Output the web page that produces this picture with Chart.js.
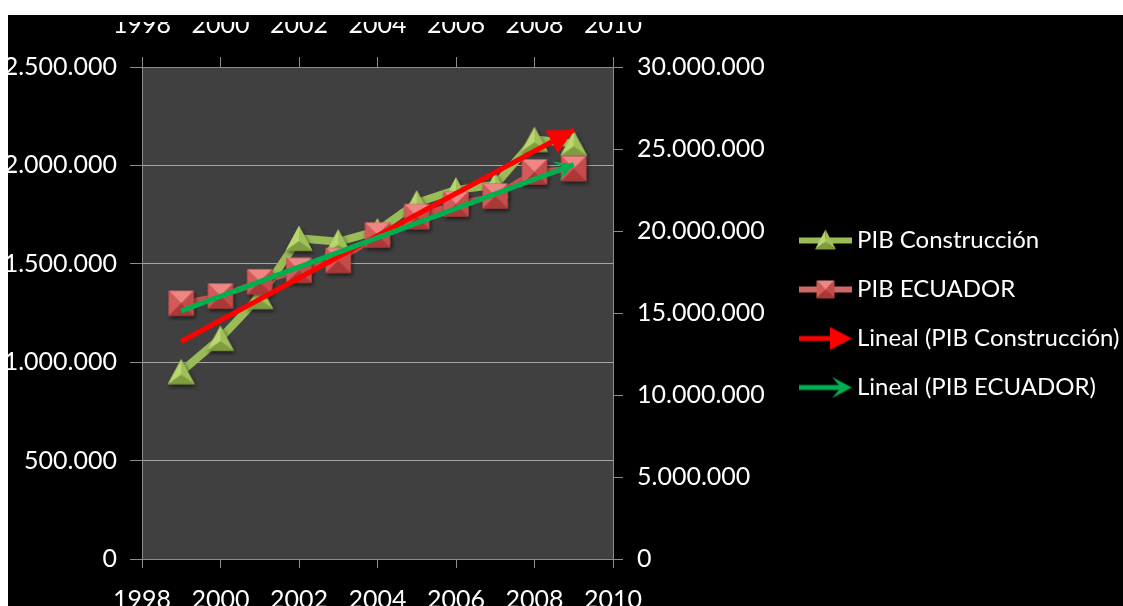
<!DOCTYPE html>
<html>
<head>
<meta charset="utf-8">
<title>PIB Construcción vs PIB Ecuador</title>
<script src="https://cdn.jsdelivr.net/npm/chart.js@4.4.1/dist/chart.umd.min.js"></script>
<style>
  html, body { margin: 0; padding: 0; background: #ffffff; width: 1123px; height: 606px; overflow: hidden; }
  #wrap { position: absolute; left: 8px; top: 15px; width: 1115px; height: 591px; background: #000000; }
  canvas { display: block; }
</style>
</head>
<body>
<div id="wrap"><canvas id="chart" width="1115" height="591"></canvas></div>
<script>
// ---- data -------------------------------------------------------------
const years = [1999, 2000, 2001, 2002, 2003, 2004, 2005, 2006, 2007, 2008, 2009];
const pibConstruccion = [952000, 1122000, 1334000, 1630000, 1612000, 1668000, 1810000, 1876000, 1900000, 2132000, 2112000];
const pibEcuador = [15590000, 16030000, 16900000, 17600000, 18200000, 19750000, 20870000, 21640000, 22130000, 23600000, 23800000];

// linear trend lines (start and end of each fitted line)
const trendYears = [1999, 2009];
const trendConstruccion = [1105000, 2180000];
const trendEcuador = [15130000, 24050000];

// tick labels
const yearTicks = [1998, 2000, 2002, 2004, 2006, 2008, 2010];
const leftTicks = [0, 500000, 1000000, 1500000, 2000000, 2500000];
const rightTicks = [0, 5000000, 10000000, 15000000, 20000000, 25000000, 30000000];

// ---- helpers ----------------------------------------------------------
const fmtMiles = v => String(Math.round(v)).replace(/\B(?=(\d{3})+(?!\d))/g, '.');
const pairs = (xs, ys) => xs.map((x, i) => ({ x: x, y: ys[i] }));

function drawPyramidTriangle(g, cx, cy, w, h, shadow) {
  const ax = cx, ay = cy - h / 2;
  const lx = cx - w / 2, ly = cy + h / 2;
  const rx = cx + w / 2, ry = cy + h / 2;
  const mx = cx, my = cy + h * 0.12;
  if (shadow) {
    g.save();
    g.shadowColor = 'rgba(0,0,0,0.6)';
    g.shadowBlur = 4; g.shadowOffsetX = 1.5; g.shadowOffsetY = 2.5;
    g.beginPath(); g.moveTo(ax, ay); g.lineTo(rx, ry); g.lineTo(lx, ly); g.closePath();
    g.fillStyle = '#8cab48'; g.fill();
    g.restore();
  }
  const face = (pts, col) => {
    g.beginPath(); g.moveTo(pts[0], pts[1]); g.lineTo(pts[2], pts[3]); g.lineTo(pts[4], pts[5]); g.closePath();
    g.fillStyle = col; g.fill();
  };
  face([ax, ay, lx, ly, mx, my], '#b9d66f');
  face([ax, ay, rx, ry, mx, my], '#a2c05a');
  face([lx, ly, rx, ry, mx, my], '#7f9d3f');
}

function drawPyramidSquare(g, cx, cy, s, shadow) {
  const l = cx - s / 2, t = cy - s / 2, r = cx + s / 2, b = cy + s / 2;
  if (shadow) {
    g.save();
    g.shadowColor = 'rgba(0,0,0,0.6)';
    g.shadowBlur = 4; g.shadowOffsetX = 1.5; g.shadowOffsetY = 2.5;
    g.fillStyle = '#b84442'; g.fillRect(l, t, s, s);
    g.restore();
  }
  const face = (pts, col) => {
    g.beginPath(); g.moveTo(pts[0], pts[1]); g.lineTo(pts[2], pts[3]); g.lineTo(pts[4], pts[5]); g.closePath();
    g.fillStyle = col; g.fill();
  };
  face([l, t, r, t, cx, cy], '#ee8683');
  face([l, t, l, b, cx, cy], '#d35a58');
  face([r, t, r, b, cx, cy], '#c44c4a');
  face([l, b, r, b, cx, cy], '#a93836');
}

function makeCanvas(w, h) {
  const c = document.createElement('canvas');
  c.width = w; c.height = h;
  return c;
}

// point markers
const triMarker = (() => {
  const c = makeCanvas(38, 36);
  drawPyramidTriangle(c.getContext('2d'), 19, 18, 27, 25, true);
  return c;
})();
const sqMarker = (() => {
  const c = makeCanvas(36, 36);
  drawPyramidSquare(c.getContext('2d'), 18, 18, 25, true);
  return c;
})();

// legend symbols (line sample + marker / arrow), visible part from x=13 to x=66
function legendIcon(kind) {
  const c = makeCanvas(66, 30);
  const g = c.getContext('2d');
  const y = 15;
  if (kind === 'tri') {
    g.strokeStyle = '#9bbb59'; g.lineWidth = 6;
    g.beginPath(); g.moveTo(13, y); g.lineTo(66, y); g.stroke();
    drawPyramidTriangle(g, 39.5, y - 1, 21, 20, false);
  } else if (kind === 'sq') {
    g.strokeStyle = '#d06866'; g.lineWidth = 6;
    g.beginPath(); g.moveTo(13, y); g.lineTo(66, y); g.stroke();
    drawPyramidSquare(g, 39.5, y, 18, false);
  } else if (kind === 'redArrow') {
    g.strokeStyle = '#ff0000'; g.fillStyle = '#ff0000'; g.lineWidth = 5;
    g.beginPath(); g.moveTo(13, y); g.lineTo(48, y); g.stroke();
    g.beginPath(); g.moveTo(66, y); g.lineTo(44, y - 11.5); g.lineTo(44, y + 11.5); g.closePath(); g.fill();
  } else {
    g.strokeStyle = '#00b050'; g.fillStyle = '#00b050'; g.lineWidth = 5;
    g.beginPath(); g.moveTo(13, y); g.lineTo(58, y); g.stroke();
    g.beginPath(); g.moveTo(66, y); g.lineTo(46, y - 10.5); g.lineTo(55, y); g.lineTo(46, y + 10.5); g.closePath(); g.fill();
  }
  return c;
}
const legendIcons = [legendIcon('tri'), legendIcon('sq'), legendIcon('redArrow'), legendIcon('greenArrow')];

// ---- plugins ----------------------------------------------------------
const plotBackground = {
  id: 'plotBackground',
  beforeDraw(chart) {
    const a = chart.chartArea, g = chart.ctx;
    g.save();
    g.fillStyle = '#404040';
    g.fillRect(a.left, a.top, a.right - a.left, a.bottom - a.top);
    g.restore();
  }
};

// arrow heads at the end of the trend lines
const arrowHeads = {
  id: 'arrowHeads',
  afterDatasetDraw(chart, args) {
    const ds = chart.data.datasets[args.index];
    if (!ds.arrowHead) return;
    const pts = args.meta.data;
    const a = pts[pts.length - 2], b = pts[pts.length - 1];
    const ang = Math.atan2(b.y - a.y, b.x - a.x);
    const g = chart.ctx;
    g.save();
    g.translate(b.x, b.y);
    g.rotate(ang);
    g.fillStyle = ds.borderColor;
    g.beginPath();
    if (ds.arrowHead === 'triangle') {
      g.moveTo(0, 0); g.lineTo(-25, -13); g.lineTo(-25, 13);
    } else {
      g.moveTo(0, 0); g.lineTo(-19, -10.5); g.lineTo(-10, 0); g.lineTo(-19, 10.5);
    }
    g.closePath();
    g.fill();
    g.restore();
  }
};

// ---- chart ------------------------------------------------------------
Chart.defaults.font.family = "Lato, 'Open Sans', sans-serif";
Chart.defaults.color = '#ffffff';

const axisGray = '#8c8c8c';
const tickFont = { size: 25 };
const setTicks = list => scale => { scale.ticks = list.map(v => ({ value: v })); };

new Chart(document.getElementById('chart'), {
  type: 'line',
  data: {
    datasets: [
      {
        label: 'PIB Construcción',
        data: pairs(years, pibConstruccion),
        xAxisID: 'x', yAxisID: 'y',
        borderColor: '#9bbb59', backgroundColor: '#9bbb59',
        borderWidth: 8, tension: 0, fill: false,
        pointStyle: triMarker, pointRadius: 13,
        order: 3
      },
      {
        label: 'PIB ECUADOR',
        data: pairs(years, pibEcuador),
        xAxisID: 'x', yAxisID: 'y1',
        borderColor: '#c8504e', backgroundColor: '#c8504e',
        borderWidth: 6, tension: 0, fill: false,
        pointStyle: sqMarker, pointRadius: 12,
        order: 2
      },
      {
        label: 'Lineal (PIB Construcción)',
        data: pairs(trendYears, trendConstruccion),
        xAxisID: 'x', yAxisID: 'y',
        borderColor: '#ff0000', backgroundColor: '#ff0000',
        borderWidth: 5, tension: 0, fill: false, pointRadius: 0,
        arrowHead: 'triangle',
        order: 1
      },
      {
        label: 'Lineal (PIB ECUADOR)',
        data: pairs(trendYears, trendEcuador),
        xAxisID: 'x', yAxisID: 'y1',
        borderColor: '#00b050', backgroundColor: '#00b050',
        borderWidth: 5, tension: 0, fill: false, pointRadius: 0,
        arrowHead: 'stealth',
        order: 0
      }
    ]
  },
  options: {
    responsive: false,
    devicePixelRatio: 1,
    animation: false,
    events: [],
    layout: { padding: { top: 7 } },
    scales: {
      x: {
        type: 'linear', position: 'bottom', min: 1998, max: 2010,
        afterBuildTicks: setTicks(yearTicks),
        afterFit: s => { s.height = 47; },
        ticks: { color: '#ffffff', font: tickFont, padding: 17, maxRotation: 0, autoSkip: false, callback: v => String(v) },
        grid: { drawOnChartArea: false, color: axisGray, tickLength: 9 },
        border: { color: axisGray }
      },
      x2: {
        type: 'linear', position: 'top', min: 1998, max: 2010,
        afterBuildTicks: setTicks(yearTicks),
        afterFit: s => { s.height = 45; },
        ticks: { color: '#ffffff', font: tickFont, padding: 17, maxRotation: 0, autoSkip: false, callback: v => String(v) },
        grid: { drawOnChartArea: false, color: axisGray, tickLength: 10 },
        border: { color: axisGray }
      },
      y: {
        type: 'linear', position: 'left', min: 0, max: 2500000,
        afterBuildTicks: setTicks(leftTicks),
        afterFit: s => { s.width = 134; },
        ticks: { color: '#ffffff', font: tickFont, padding: 13, callback: v => fmtMiles(v) },
        grid: { color: '#a6a6a6', tickColor: axisGray, tickLength: 12 },
        border: { color: axisGray }
      },
      y1: {
        type: 'linear', position: 'right', min: 0, max: 30000000,
        afterBuildTicks: setTicks(rightTicks),
        afterFit: s => { s.width = s.chart.width - 605 - s.chart.legend.width; },
        ticks: { color: '#ffffff', font: tickFont, padding: 14, callback: v => fmtMiles(v) },
        grid: { drawOnChartArea: false, color: axisGray, tickLength: 10 },
        border: { color: axisGray }
      }
    },
    plugins: {
      tooltip: { enabled: false },
      legend: {
        position: 'right',
        maxWidth: 355,
        labels: {
          color: '#ffffff',
          font: { size: 24 },
          padding: 25,
          usePointStyle: true,
          pointStyleWidth: 52,
          sort: (a, b) => a.datasetIndex - b.datasetIndex,
          generateLabels(chart) {
            const items = Chart.defaults.plugins.legend.labels.generateLabels(chart);
            return items.map(it => Object.assign(it, { pointStyle: legendIcons[it.datasetIndex], fontColor: '#ffffff' }));
          }
        }
      }
    }
  },
  plugins: [plotBackground, arrowHeads]
});
</script>
</body>
</html>
